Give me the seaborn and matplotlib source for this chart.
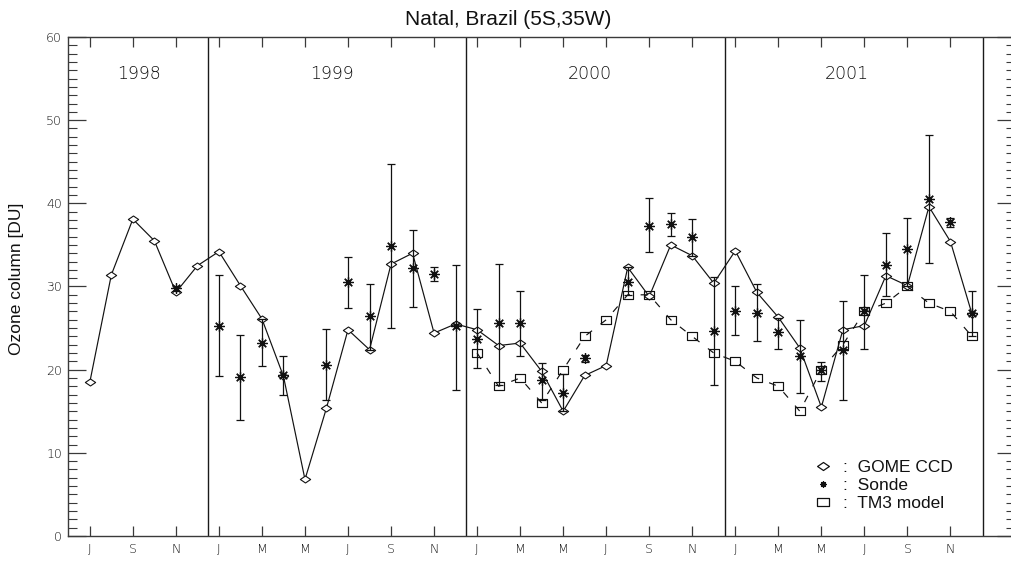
import numpy as np
import pandas as pd
import matplotlib
matplotlib.use("Agg")
import matplotlib.pyplot as plt
from matplotlib.path import Path
from matplotlib.lines import Line2D
from matplotlib.ticker import MultipleLocator, FixedLocator, FixedFormatter
import seaborn as sns

# Months are counted from January 1998 (0 = Jan 1998).
gome_months = list(range(6, 48))
gome_ozone = [18.5, 31.4, 38.1, 35.5, 29.3, 32.5,
              34.2, 30.1, 26.1, 19.2, 6.8, 15.4, 24.8, 22.4, 32.7, 34.0, 24.4, 25.5,
              24.8, 22.9, 23.2, 19.8, 15.0, 19.3, 20.5, 32.3, 28.8, 35.0, 33.7, 30.4,
              34.3, 29.3, 26.3, 22.6, 15.5, 24.8, 25.3, 31.3, 30.1, 39.6, 35.4, 26.7]

sonde_months = [10, 12, 13, 14, 15, 17, 18, 19, 20, 21, 22, 23,
                24, 25, 26, 27, 28, 29, 31, 32, 33, 34, 35,
                36, 37, 38, 39, 40, 41, 42, 43, 44, 45, 46, 47]
sonde_ozone = [29.8, 25.3, 19.1, 23.2, 19.3, 20.6, 30.5, 26.5, 34.9, 32.2, 31.5, 25.2,
               23.7, 25.65, 25.6, 18.75, 17.15, 21.35, 30.6, 37.3, 37.5, 35.9, 24.7,
               27.1, 26.85, 24.5, 21.7, 19.95, 22.4, 27.0, 32.6, 34.5, 40.5, 37.7, 26.8]
sonde_low = [29.5, 19.2, 14.0, 20.5, 16.9, 16.3, 27.4, 22.4, 25.05, 27.5, 30.7, 17.5,
             20.2, 18.15, 21.6, 16.3, 15.0, 20.9, 29.0, 34.1, 36.1, 33.7, 18.15,
             24.2, 23.4, 22.5, 17.2, 18.6, 16.35, 22.5, 28.8, 30.0, 32.8, 37.1, 24.05]
sonde_high = [30.1, 31.4, 24.2, 26.1, 21.6, 24.85, 33.6, 30.3, 44.7, 36.8, 32.3, 32.6,
              27.25, 32.7, 29.4, 20.85, 19.5, 21.8, 32.3, 40.6, 38.8, 38.1, 31.2,
              30.0, 30.3, 26.2, 26.0, 20.95, 28.2, 31.4, 36.4, 38.2, 48.2, 38.2, 29.4]

tm3_months = list(range(24, 48))
tm3_ozone = [22, 18, 19, 16, 20, 24, 26, 29, 29, 26, 24, 22,
             21, 19, 18, 15, 20, 23, 27, 28, 30, 28, 27, 24]

tick_months = list(range(6, 47, 2))
tick_letters = ["J", "S", "N",
                "J", "M", "M", "J", "S", "N",
                "J", "M", "M", "J", "S", "N",
                "J", "M", "M", "J", "S", "N"]
years = ["1998", "1999", "2000", "2001"]
year_breaks = [11.5, 23.5, 35.5, 47.5]
year_label_x = [8.3, 17.25, 29.25, 41.2]

title = "Natal, Brazil (5S,35W)"
ylabel = "Ozone column [DU]"
legend_labels = [":  GOME CCD", ":  Sonde", ":  TM3 model"]

gome = pd.DataFrame({"month": gome_months, "ozone": gome_ozone})
sonde = pd.DataFrame({"month": sonde_months, "ozone": sonde_ozone,
                      "low": sonde_low, "high": sonde_high})
tm3 = pd.DataFrame({"month": tm3_months, "ozone": tm3_ozone})

sns.set_theme(style="white")
plt.rcParams["font.family"] = ["Liberation Sans", "DejaVu Sans"]

# wide, flat open symbols
diamond = Path([(-1, 0), (0, 0.68), (1, 0), (0, -0.68), (-1, 0)],
               [Path.MOVETO, Path.LINETO, Path.LINETO, Path.LINETO, Path.CLOSEPOLY])
rect = Path([(-1, -0.7), (1, -0.7), (1, 0.7), (-1, 0.7), (-1, -0.7)],
            [Path.MOVETO, Path.LINETO, Path.LINETO, Path.LINETO, Path.CLOSEPOLY])
asterisk = (8, 2, 0)

ink = "#111111"
axis_col = "#3a3a3a"
tick_font = dict(family="DejaVu Sans", weight="light")

fig = plt.figure(figsize=(10.11, 5.61), dpi=100)
ax = fig.add_axes([0.06756, 0.04456, 0.9364, 0.8895])

# GOME CCD: solid line with open diamonds
sns.lineplot(data=gome, x="month", y="ozone", ax=ax, estimator=None, sort=True,
             color=ink, linewidth=0.85, marker=diamond, markersize=7.4,
             markerfacecolor="white", markeredgecolor=ink, markeredgewidth=0.8,
             zorder=3)

# TM3 model: dashed line with open rectangles
sns.lineplot(data=tm3, x="month", y="ozone", ax=ax, estimator=None, sort=True,
             color=ink, linewidth=0.85, linestyle=(0, (6, 9)), marker=rect,
             markersize=7.4, markerfacecolor="none", markeredgecolor=ink,
             markeredgewidth=0.85, zorder=4)

# Sonde: asterisks with min/max bars
yerr = np.vstack([sonde["ozone"] - sonde["low"], sonde["high"] - sonde["ozone"]])
ax.errorbar(sonde["month"], sonde["ozone"], yerr=yerr, fmt="none",
            ecolor=ink, elinewidth=0.9, capsize=3.0, capthick=0.9, zorder=5)
ax.plot(sonde["month"], sonde["ozone"], linestyle="none", marker=asterisk,
        markersize=7.5, markeredgewidth=0.9, color=ink, zorder=6)

# year separators and year names
for xb in year_breaks:
    ax.axvline(xb, color="#1a1a1a", linewidth=1.0, zorder=2)
for xl, yr in zip(year_label_x, years):
    ax.text(xl, 55.5, yr, ha="center", va="center", fontsize=12.5,
            color="#111111", **tick_font)

ax.set_xlim(5, 49)
ax.set_ylim(0, 60)
ax.xaxis.set_major_locator(FixedLocator(tick_months))
ax.xaxis.set_major_formatter(FixedFormatter(tick_letters))
ax.yaxis.set_major_locator(MultipleLocator(10))
ax.yaxis.set_minor_locator(MultipleLocator(1))

ax.tick_params(axis="x", which="major", direction="in", length=7, width=0.9,
               top=True, bottom=True, color=axis_col, pad=5.0, labelsize=9,
               labelcolor="#111111")
ax.tick_params(axis="y", which="major", direction="in", length=13, width=0.9,
               left=True, right=True, color=axis_col, pad=4.5, labelsize=9,
               labelcolor="#111111")
ax.tick_params(axis="y", which="minor", direction="in", length=6.5, width=0.8,
               left=True, right=True, color=axis_col)
for lbl in ax.get_xticklabels() + ax.get_yticklabels():
    lbl.set_fontfamily(tick_font["family"])
    lbl.set_fontweight(tick_font["weight"])

for sp in ax.spines.values():
    sp.set_visible(True)
    sp.set_color(axis_col)
    sp.set_linewidth(1.0)

ax.set_xlabel("")
ax.set_ylabel(ylabel, fontsize=12.5, color="#111111", va="center")
ax.yaxis.set_label_coords(-0.0545, 0.515)

fig.text(0.503, 0.966, title, ha="center", va="center", fontsize=15, color="#111111")

handles = [
    Line2D([], [], linestyle="none", marker=diamond, markersize=8.5,
           markerfacecolor="white", markeredgecolor=ink, markeredgewidth=0.9),
    Line2D([], [], linestyle="none", marker=asterisk, markersize=4.5,
           markeredgewidth=0.9, color=ink),
    Line2D([], [], linestyle="none", marker=rect, markersize=9,
           markerfacecolor="none", markeredgecolor=ink, markeredgewidth=0.9),
]
ax.legend(handles, legend_labels, loc="lower left", bbox_to_anchor=(0.788, 0.05),
          frameon=False, fontsize=12.5, handlelength=1.0, handletextpad=0.66,
          labelspacing=0.17, borderpad=0, borderaxespad=0, labelcolor="#111111")

fig.savefig("out.png", dpi=100)
